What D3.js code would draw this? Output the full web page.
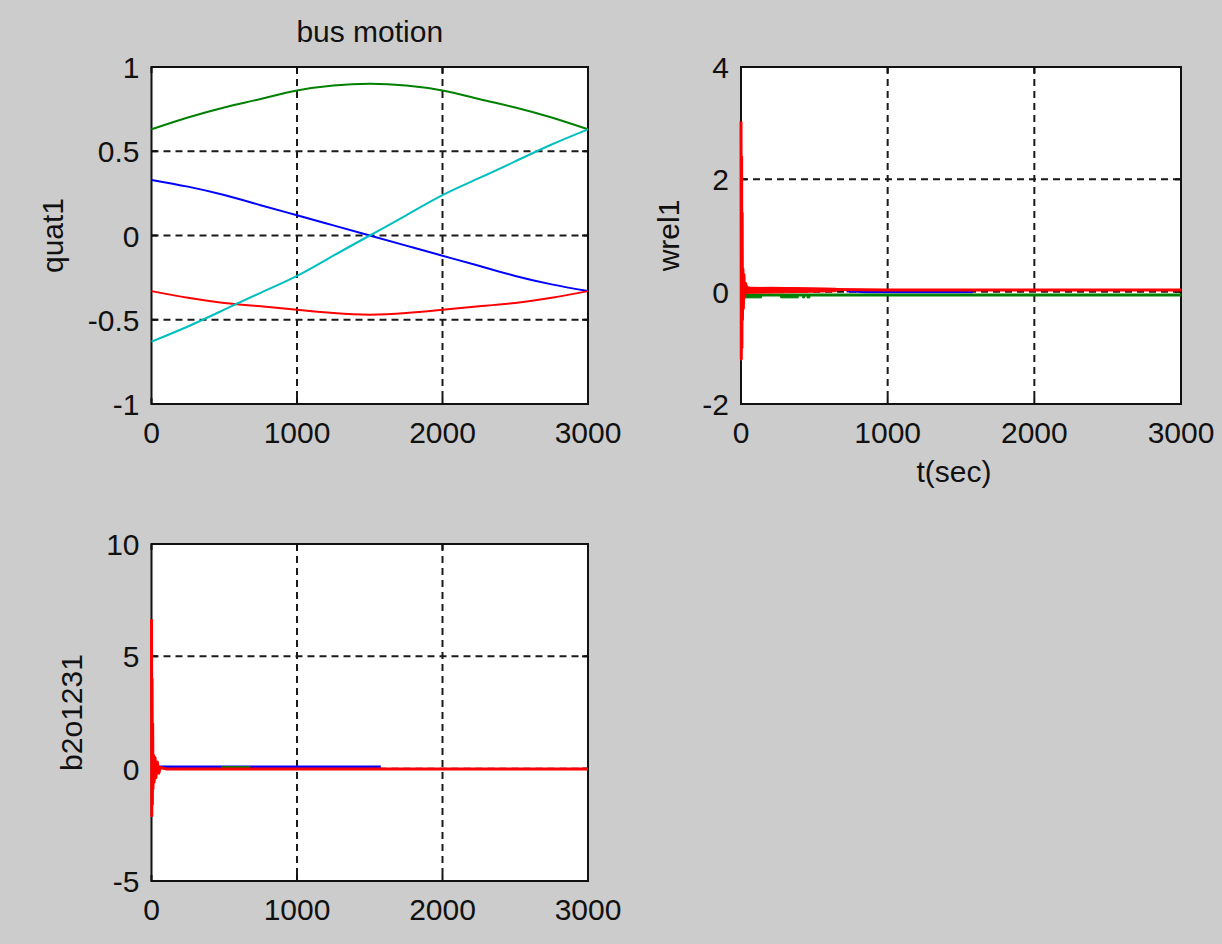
<!DOCTYPE html>
<html><head><meta charset="utf-8">
<script src="https://cdn.jsdelivr.net/npm/d3@7/dist/d3.min.js"></script>
<style>
html,body{margin:0;padding:0;background:#cccccc;}
svg{display:block;}
text{font-family:"Liberation Sans",Arial,sans-serif;fill:#111;}
</style></head>
<body>
<svg id="chart" width="1222" height="944"></svg>
<script>
// ---------- data ----------
const title = "bus motion";
const xTicks = [0, 1000, 2000, 3000];

// panel 1: quat1
const quatTicksY = [-1, -0.5, 0, 0.5, 1];
const quatT     = [0, 250, 500, 750, 1000, 1250, 1500, 1750, 2000, 2250, 2500, 2750, 3000];
const quatBlue  = [0.33, 0.29, 0.24, 0.18, 0.12, 0.06, 0.00, -0.06, -0.12, -0.18, -0.24, -0.29, -0.33];
const quatGreen = [0.63, 0.70, 0.76, 0.81, 0.86, 0.89, 0.90, 0.89, 0.86, 0.81, 0.76, 0.70, 0.63];
const quatRed   = [-0.33, -0.37, -0.40, -0.42, -0.44, -0.46, -0.47, -0.46, -0.44, -0.42, -0.40, -0.37, -0.33];
const quatCyan  = [-0.63, -0.54, -0.44, -0.34, -0.24, -0.12, 0.00, 0.12, 0.24, 0.34, 0.44, 0.54, 0.63];

// panel 2: wrel1
const wrelTicksY = [-2, 0, 2, 4];
const wrelRedT  = [0, 2, 4, 6, 8, 10, 13, 16, 20, 25, 30, 40, 60, 100, 200, 400, 650, 1000, 2000, 3000];
const wrelRedV  = [3.03, -1.2, 2.4, -1.0, 1.4, -0.5, 0.4, -0.3, 0.3, -0.1, 0.15, 0.07, 0.06, 0.05, 0.06, 0.05, 0.04, 0.03, 0.03, 0.03];
const wrelRedEnvT  = [20, 300, 650];
const wrelRedEnvLo = [-0.03, -0.02, 0.0];
const wrelRedEnvHi = [0.08, 0.07, 0.06];
const wrelGreenT = [0, 3000];
const wrelGreenV = [-0.06, -0.06];
const wrelGreenPatchT0 = [10, 270, 420, 450];
const wrelGreenPatchT1 = [140, 390, 435, 470];
const wrelGreenPatchLo = [-0.11, -0.11, -0.11, -0.11];
const wrelBlueT = [720, 760, 850, 1580];
const wrelBlueV = [0.01, 0.01, 0.0, 0.0];

// panel 3: b2o1231
const bTicksY = [-5, 0, 5, 10];
const bRedT  = [0, 2, 4, 6, 8, 10, 14, 18, 24, 30, 40, 50, 60, 100, 3000];
const bRedV  = [6.65, -2.1, 4.0, -1.6, 2.0, -0.9, 0.6, -0.6, 0.5, -0.4, 0.3, -0.2, 0.05, -0.01, -0.01];
const bBlueT = [10, 1576];
const bBlueV = [0.07, 0.07];
const bGreenT = [480, 680];
const bGreenV = [0.07, 0.07];

// ---------- drawing ----------
const svg = d3.select("#chart");
const FONT = 30;

function panel(o) {
  const x = d3.scaleLinear().domain([0, 3000]).range([o.left, o.right]);
  const y = d3.scaleLinear().domain(o.yDomain).range([o.bottom, o.top]);
  const g = svg.append("g");
  g.append("rect").attr("x", o.left).attr("y", o.top)
    .attr("width", o.right - o.left).attr("height", o.bottom - o.top)
    .attr("fill", "#ffffff");
  // grid
  xTicks.slice(1, -1).forEach(t => {
    g.append("line").attr("x1", x(t)).attr("x2", x(t)).attr("y1", o.top).attr("y2", o.bottom)
      .attr("stroke", "#1a1a1a").attr("stroke-width", 2).attr("stroke-dasharray", "7,5");
  });
  o.yTicks.slice(1, -1).forEach(t => {
    g.append("line").attr("x1", o.left).attr("x2", o.right).attr("y1", y(t)).attr("y2", y(t))
      .attr("stroke", "#1a1a1a").attr("stroke-width", 2).attr("stroke-dasharray", "7,5");
  });
  // frame
  g.append("rect").attr("x", o.left).attr("y", o.top)
    .attr("width", o.right - o.left).attr("height", o.bottom - o.top)
    .attr("fill", "none").attr("stroke", "#111").attr("stroke-width", 2);
  // ticks inward
  xTicks.forEach(t => {
    g.append("line").attr("x1", x(t)).attr("x2", x(t)).attr("y1", o.bottom).attr("y2", o.bottom - 6).attr("stroke", "#111").attr("stroke-width", 2);
    g.append("line").attr("x1", x(t)).attr("x2", x(t)).attr("y1", o.top).attr("y2", o.top + 6).attr("stroke", "#111").attr("stroke-width", 2);
  });
  o.yTicks.forEach(t => {
    g.append("line").attr("x1", o.left).attr("x2", o.left + 6).attr("y1", y(t)).attr("y2", y(t)).attr("stroke", "#111").attr("stroke-width", 2);
    g.append("line").attr("x1", o.right).attr("x2", o.right - 6).attr("y1", y(t)).attr("y2", y(t)).attr("stroke", "#111").attr("stroke-width", 2);
  });
  // tick labels
  xTicks.forEach(t => {
    g.append("text").attr("x", x(t)).attr("y", o.bottom + 39).attr("text-anchor", "middle")
      .attr("font-size", FONT).text(d3.format("d")(t));
  });
  o.yTicks.forEach(t => {
    g.append("text").attr("x", o.left - 12).attr("y", y(t) + 11).attr("text-anchor", "end")
      .attr("font-size", FONT).text(String(t));
  });
  // y label
  g.append("text").attr("transform", `translate(${o.ylabelX},${(o.top + o.bottom) / 2}) rotate(-90)`)
    .attr("text-anchor", "middle").attr("font-size", FONT).text(o.ylabel);
  return {x, y, g};
}

function drawLine(p, T, V, color, w, curve) {
  const line = d3.line().x((d, i) => p.x(T[i])).y(d => p.y(d)).curve(curve || d3.curveLinear);
  p.g.append("path").attr("d", line(V)).attr("fill", "none")
    .attr("stroke", color).attr("stroke-width", w).attr("stroke-linejoin", "round");
}
function drawEnv(p, T, lo, hi, color) {
  const area = d3.area().x((d, i) => p.x(T[i])).y0((d, i) => p.y(lo[i])).y1((d, i) => p.y(hi[i]));
  p.g.append("path").attr("d", area(T)).attr("fill", color).attr("stroke", color).attr("stroke-width", 1);
}

// panel 1
const p1 = panel({left: 151.5, right: 588, top: 67, bottom: 404, yDomain: [-1, 1], yTicks: quatTicksY, ylabel: "quat1", ylabelX: 63});
drawLine(p1, quatT, quatBlue, "#0000ff", 2, d3.curveNatural);
drawLine(p1, quatT, quatGreen, "#008000", 2, d3.curveNatural);
drawLine(p1, quatT, quatRed, "#ff0000", 2, d3.curveNatural);
drawLine(p1, quatT, quatCyan, "#00bfbf", 2, d3.curveNatural);
svg.append("text").attr("x", (151.5 + 588) / 2).attr("y", 42).attr("text-anchor", "middle")
  .attr("font-size", FONT).text(title);

// panel 2
const p2 = panel({left: 741, right: 1181, top: 67, bottom: 404, yDomain: [-2, 4], yTicks: wrelTicksY, ylabel: "wrel1", ylabelX: 679});
drawLine(p2, wrelBlueT, wrelBlueV, "#0000ff", 3);
drawLine(p2, wrelGreenT, wrelGreenV, "#008000", 3);
wrelGreenPatchT0.forEach((t0, i) => {
  drawEnv(p2, [t0, wrelGreenPatchT1[i]], [wrelGreenPatchLo[i], wrelGreenPatchLo[i]], [wrelGreenV[0], wrelGreenV[0]], "#008000");
});
drawEnv(p2, wrelRedEnvT, wrelRedEnvLo, wrelRedEnvHi, "#ff0000");
drawLine(p2, wrelRedT, wrelRedV, "#ff0000", 3);
svg.append("text").attr("x", 954).attr("y", 482).attr("text-anchor", "middle")
  .attr("font-size", FONT).text("t(sec)");

// panel 3
const p3 = panel({left: 151.5, right: 588, top: 544, bottom: 881, yDomain: [-5, 10], yTicks: bTicksY, ylabel: "b2o1231", ylabelX: 82});
drawLine(p3, bBlueT, bBlueV, "#0000ff", 3);
drawLine(p3, bGreenT, bGreenV, "#008000", 2);
drawLine(p3, bRedT, bRedV, "#ff0000", 3);
</script>
</body></html>
